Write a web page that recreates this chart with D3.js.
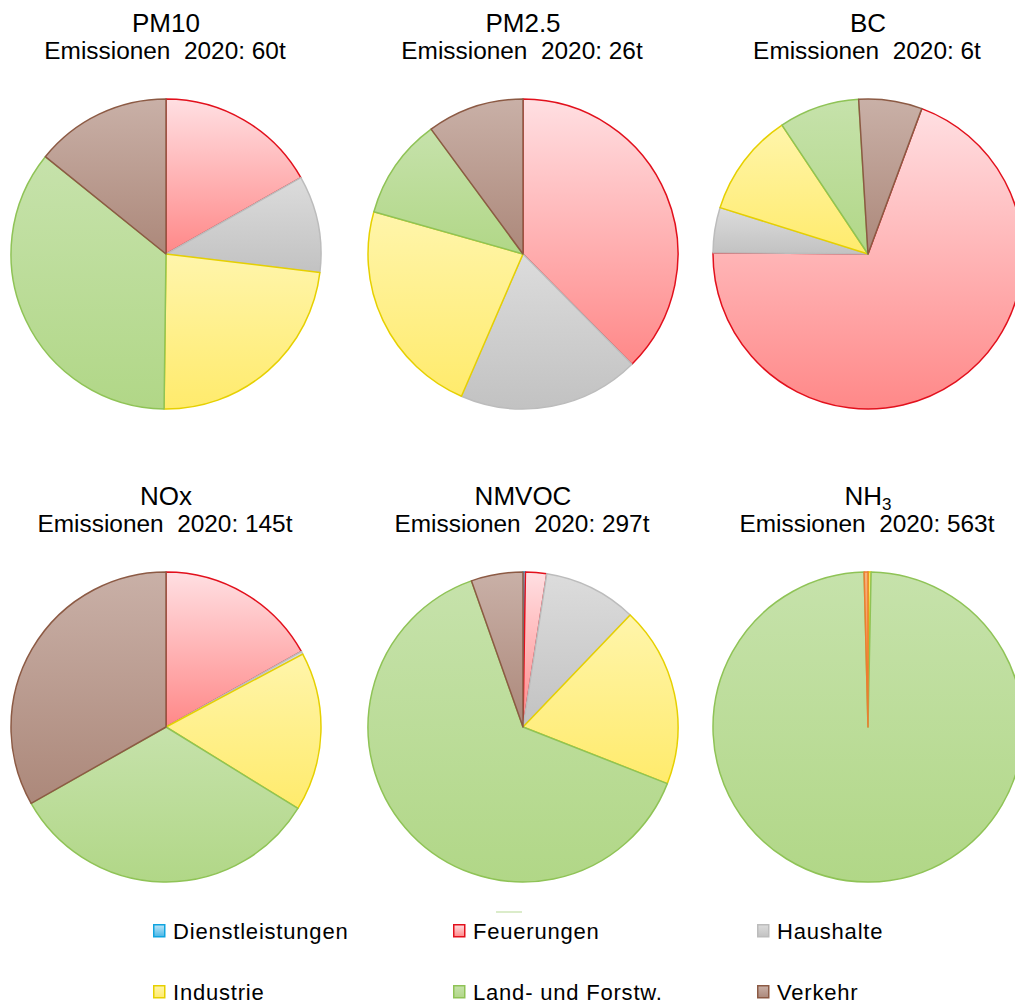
<!DOCTYPE html>
<html>
<head>
<meta charset="utf-8">
<script src="https://cdn.jsdelivr.net/npm/d3@7/dist/d3.min.js"></script>
<style>
  body { margin: 0; background: #fff; }
  text { font-family: "Liberation Sans", Arial, sans-serif; fill: #000; }
</style>
</head>
<body>
<svg id="chart" width="1015" height="1003"></svg>
<script>
// Sectors, in the order the slices are laid out clockwise
const categories = ["Dienstleistungen", "Feuerungen", "Haushalte", "Industrie", "Land- und Forstw.", "Verkehr"];

// Pollutants and their total emissions 2020 (t)
const pollutants = ["PM10", "PM2.5", "BC", "NOx", "NMVOC", "NH3"];
const totals2020 = [60, 26, 6, 145, 297, 563];

// Share of each sector in percent (same order as categories)
const sharesPM10  = [0,    16.8, 10.1, 23.3, 35.6, 14.2];
const sharesPM25  = [0,    37.6, 18.9, 22.9, 10.5, 10.1];
const sharesBC    = [0,    69.5,  4.7, 10.8,  8.4,  6.6];
const sharesNOx   = [0,    16.9,  0.3, 16.6, 33.0, 33.2];
const sharesNMVOC = [0.25,  2.2,  9.7, 18.8, 63.65, 5.4];
const sharesNH3   = [0,    0.05, 0.02, 0.25, 99.28, 0.4];
const allShares = [sharesPM10, sharesPM25, sharesBC, sharesNOx, sharesNMVOC, sharesNH3];

// Angle of the first slice (degrees, clockwise from 12 o'clock)
const firstSliceAngle = [0, 0, 20.3, 0, 0, 0];

// Slice styling: vertical gradient (top, bottom) and outline colour
const palette = {
  "Dienstleistungen":  { top: "#bfe6f8", bottom: "#48b6e6", line: "#10a4df" },
  "Feuerungen":        { top: "#ffdfe2", bottom: "#ff8888", line: "#e2101c" },
  "Haushalte":         { top: "#dcdcdc", bottom: "#c2c2c2", line: "#bcbcbc" },
  "Industrie":         { top: "#fff5ab", bottom: "#ffeb6c", line: "#e6d000" },
  "Land- und Forstw.": { top: "#c6e2ab", bottom: "#b1d787", line: "#8fc356" },
  "Verkehr":           { top: "#c9b0a7", bottom: "#ac887a", line: "#8c5a44" }
};
// The NH3 pie keeps the default orange for its transport slice
const paletteOverrides = {
  "NH3": { "Verkehr": { top: "#f6b27a", bottom: "#ee8a45", line: "#ed7d31" } }
};

const svg = d3.select("#chart");
const defs = svg.append("defs");

function gradientFor(id, style) {
  const g = defs.append("linearGradient")
    .attr("id", id).attr("x1", 0).attr("y1", 0).attr("x2", 0).attr("y2", 1);
  g.append("stop").attr("offset", "0%").attr("stop-color", style.top);
  g.append("stop").attr("offset", "100%").attr("stop-color", style.bottom);
  return `url(#${id})`;
}

function styleOf(pollutant, cat) {
  const o = paletteOverrides[pollutant];
  return (o && o[cat]) ? o[cat] : palette[cat];
}

// Grid layout of the six pies
const colCenters = [166, 523, 868];
const rowCenters = [254, 727];
const radius = 155;

const arc = d3.arc().innerRadius(0).outerRadius(radius);

pollutants.forEach((p, i) => {
  const cx = colCenters[i % 3], cy = rowCenters[Math.floor(i / 3)];
  const start = firstSliceAngle[i] * Math.PI / 180;
  const pie = d3.pie().sort(null).value(d => d.v)
    .startAngle(start).endAngle(start + 2 * Math.PI);
  const data = categories.map((c, k) => ({ cat: c, v: allShares[i][k] }));

  const g = svg.append("g").attr("transform", `translate(${cx},${cy})`);
  g.selectAll("path")
    .data(pie(data).filter(d => d.data.v > 0))
    .join("path")
    .attr("d", arc)
    .attr("fill", (d, k) => gradientFor(`g${i}_${k}`, styleOf(p, d.data.cat)))
    .attr("stroke", d => styleOf(p, d.data.cat).line)
    .attr("stroke-width", 1.5)
    .attr("stroke-linejoin", "round");

  // Title and total
  const ty = cy - 222;
  const t = svg.append("text").attr("x", cx).attr("y", ty)
    .attr("text-anchor", "middle").attr("font-size", 26);
  const m = p.match(/^(NH)(3)$/);
  if (m) {
    t.append("tspan").text(m[1]);
    t.append("tspan").attr("font-size", 17).attr("dy", 5).text(m[2]);
  } else {
    t.text(p);
  }
  svg.append("text").attr("x", cx - 1).attr("y", ty + 27)
    .attr("text-anchor", "middle").attr("font-size", 24.4)
    .text(`Emissionen\u00a0 2020: ${totals2020[i]}t`);
});

// Legend
const legendCols = [153, 453, 757];
const legendRows = [924, 985];
const lg = svg.append("g");
categories.forEach((c, k) => {
  const x = legendCols[k % 3], y = legendRows[Math.floor(k / 3)];
  lg.append("rect").attr("x", x + 0.75).attr("y", y + 0.75)
    .attr("width", 11).attr("height", 12)
    .attr("fill", gradientFor(`lg${k}`, palette[c]))
    .attr("stroke", palette[c].line).attr("stroke-width", 1.5);
  lg.append("text").attr("x", x + 20).attr("y", y + 15)
    .attr("font-size", 22).attr("letter-spacing", 0.8)
    .text(c);
});
// faint leftover stroke above the legend
svg.append("line").attr("x1", 496).attr("x2", 522).attr("y1", 912).attr("y2", 912)
  .attr("stroke", "#cfe6b8").attr("stroke-width", 1.5);
</script>
</body>
</html>
